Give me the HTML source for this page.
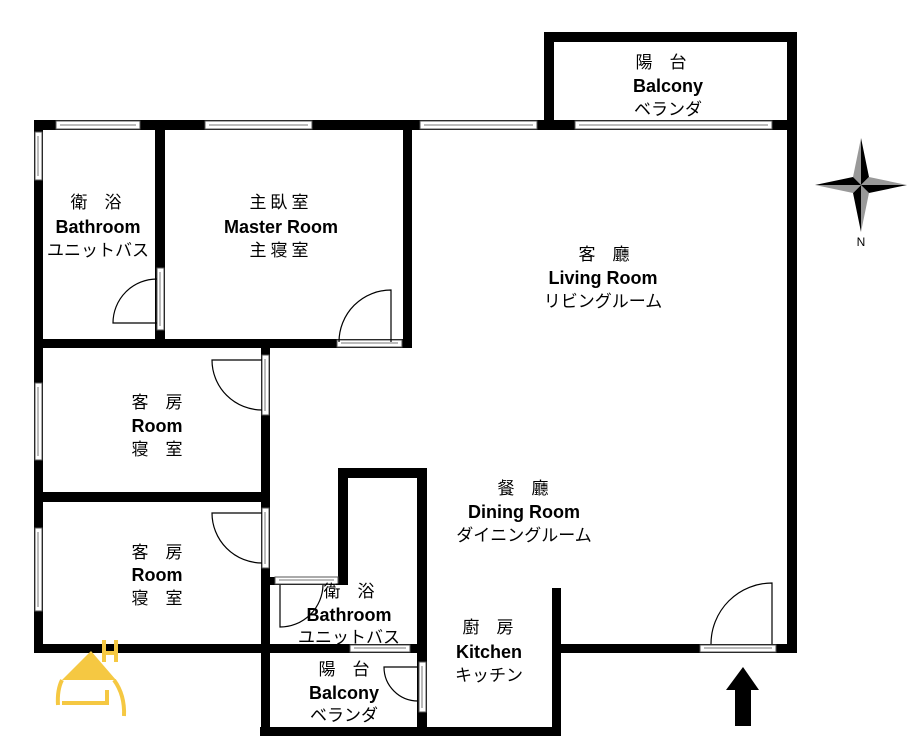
<!DOCTYPE html>
<html><head><meta charset="utf-8"><style>
html,body{margin:0;padding:0;background:#fff;width:917px;height:744px;overflow:hidden}
svg text{font-family:"Liberation Sans","Noto Sans CJK JP",sans-serif;text-anchor:middle;fill:#000}
.e{font-weight:bold;font-size:18px}
.j{font-size:17px}
</style></head><body>
<svg width="917" height="744" viewBox="0 0 917 744" xmlns="http://www.w3.org/2000/svg">
<g fill="#000">
<rect x="34" y="120" width="763" height="10"/>
<rect x="34" y="120" width="9" height="533"/>
<rect x="787" y="32" width="10" height="621"/>
<rect x="544" y="32" width="253" height="10"/>
<rect x="544" y="32" width="10" height="98"/>
<rect x="34" y="644" width="236" height="9"/>
<rect x="561" y="644" width="236" height="9"/>
<rect x="552" y="588" width="9" height="148"/>
<rect x="260" y="727" width="301" height="9"/>
<rect x="261" y="343" width="9" height="393"/>
<rect x="155" y="120" width="10" height="228"/>
<rect x="403" y="120" width="9" height="228"/>
<rect x="34" y="339" width="378" height="9"/>
<rect x="34" y="492" width="236" height="10"/>
<rect x="338" y="468" width="88" height="10"/>
<rect x="338" y="468" width="10" height="117"/>
<rect x="417" y="468" width="10" height="268"/>
<rect x="261" y="644" width="166" height="9"/>
<rect x="270" y="577" width="75" height="8"/>
</g>
<g fill="#fff" stroke="#555" stroke-width="1">
<rect x="56" y="121" width="84" height="8"/>
<rect x="205" y="121" width="107" height="8"/>
<rect x="420" y="121" width="117" height="8"/>
<rect x="575" y="121" width="197" height="8"/>
<rect x="337" y="340" width="65" height="7"/>
<rect x="275" y="577" width="63" height="7"/>
<rect x="350" y="645" width="60" height="7"/>
<rect x="700" y="645" width="76" height="7"/>
<rect x="35" y="132" width="7" height="48"/>
<rect x="35" y="383" width="7" height="77"/>
<rect x="35" y="528" width="7" height="83"/>
<rect x="157" y="268" width="7" height="62"/>
<rect x="262" y="355" width="7" height="60"/>
<rect x="262" y="508" width="7" height="60"/>
<rect x="419" y="662" width="7" height="50"/>
</g>
<g stroke="#777" stroke-width="1">
<line x1="60" y1="125" x2="136" y2="125"/><line x1="209" y1="125" x2="308" y2="125"/>
<line x1="424" y1="125" x2="533" y2="125"/><line x1="579" y1="125" x2="768" y2="125"/>
<line x1="341" y1="343" x2="398" y2="343"/><line x1="704" y1="648" x2="772" y2="648"/>
<line x1="354" y1="648" x2="406" y2="648"/><line x1="279" y1="580" x2="334" y2="580"/>
<line x1="38" y1="136" x2="38" y2="176"/><line x1="38" y1="387" x2="38" y2="456"/>
<line x1="38" y1="532" x2="38" y2="607"/><line x1="160" y1="272" x2="160" y2="326"/>
<line x1="265" y1="359" x2="265" y2="411"/><line x1="265" y1="512" x2="265" y2="564"/>
<line x1="422" y1="666" x2="422" y2="708"/>
</g>
<g fill="none" stroke="#000" stroke-width="1.2">
<path d="M157 323 H113 A44 44 0 0 1 157 279"/>
<path d="M391 342 V290 A52 52 0 0 0 339 342"/>
<path d="M262 360 H212 A50 50 0 0 0 262 410"/>
<path d="M262 513 H212 A50 50 0 0 0 262 563"/>
<path d="M280 585 V627 A43 43 0 0 0 323 585"/>
<path d="M418 667 H384 A34 34 0 0 0 418 701"/>
<path d="M772 644 V583 A61 61 0 0 0 711 644"/>
</g>
<path d="M743 667 L759 690 L751 690 L751 726 L735 726 L735 690 L726 690 Z" fill="#000"/>
<!-- compass pinwheel -->
<g>
<path d="M861 138 L853 177 L861 185 Z" fill="#999"/><path d="M861 138 L869 177 L861 185 Z" fill="#000"/>
<path d="M861 232 L853 193 L861 185 Z" fill="#000"/><path d="M861 232 L869 193 L861 185 Z" fill="#999"/>
<path d="M815 185 L853 177 L861 185 Z" fill="#000"/><path d="M815 185 L853 193 L861 185 Z" fill="#999"/>
<path d="M907 185 L869 177 L861 185 Z" fill="#999"/><path d="M907 185 L869 193 L861 185 Z" fill="#000"/>
<text x="861" y="246" style="font-size:12px">N</text>
</g>
<!-- logo -->
<path d="M91 651 L116 680 L62 680 Z" fill="#f5c842"/>
<g fill="none" stroke="#f5c842" stroke-width="4">
<path d="M62 680 Q57 690 58 705"/>
<path d="M62 703 H107 V690"/>
<path d="M114 680 Q125 695 124 716"/>
<path d="M104 640 V662 M116 640 V662 M104 653 H116"/>
</g>
<g>
<text class="j" x="661" y="68">陽　台</text>
<text class="e" x="668" y="92">Balcony</text>
<text class="j" x="668" y="115">ベランダ</text>
<text class="j" x="96" y="208">衛　浴</text>
<text class="e" x="98" y="233">Bathroom</text>
<text class="j" x="98" y="256">ユニットバス</text>
<text class="j" x="281" y="208" letter-spacing="4">主臥室</text>
<text class="e" x="281" y="233">Master Room</text>
<text class="j" x="281" y="256" letter-spacing="4">主寝室</text>
<text class="j" x="604" y="260">客　廳</text>
<text class="e" x="603" y="284">Living Room</text>
<text class="j" x="603" y="307">リビングルーム</text>
<text class="j" x="157" y="408">客　房</text>
<text class="e" x="157" y="432">Room</text>
<text class="j" x="157" y="455">寝　室</text>
<text class="j" x="157" y="558">客　房</text>
<text class="e" x="157" y="581">Room</text>
<text class="j" x="157" y="604">寝　室</text>
<text class="j" x="523" y="494">餐　廳</text>
<text class="e" x="524" y="518">Dining Room</text>
<text class="j" x="524" y="541">ダイニングルーム</text>
<text class="j" x="349" y="597">衛　浴</text>
<text class="e" x="349" y="621">Bathroom</text>
<text class="j" x="349" y="643">ユニットバス</text>
<text class="j" x="488" y="633">廚　房</text>
<text class="e" x="489" y="658">Kitchen</text>
<text class="j" x="489" y="681">キッチン</text>
<text class="j" x="344" y="675">陽　台</text>
<text class="e" x="344" y="699">Balcony</text>
<text class="j" x="344" y="721">ベランダ</text>
</g>
</svg>
</body></html>
